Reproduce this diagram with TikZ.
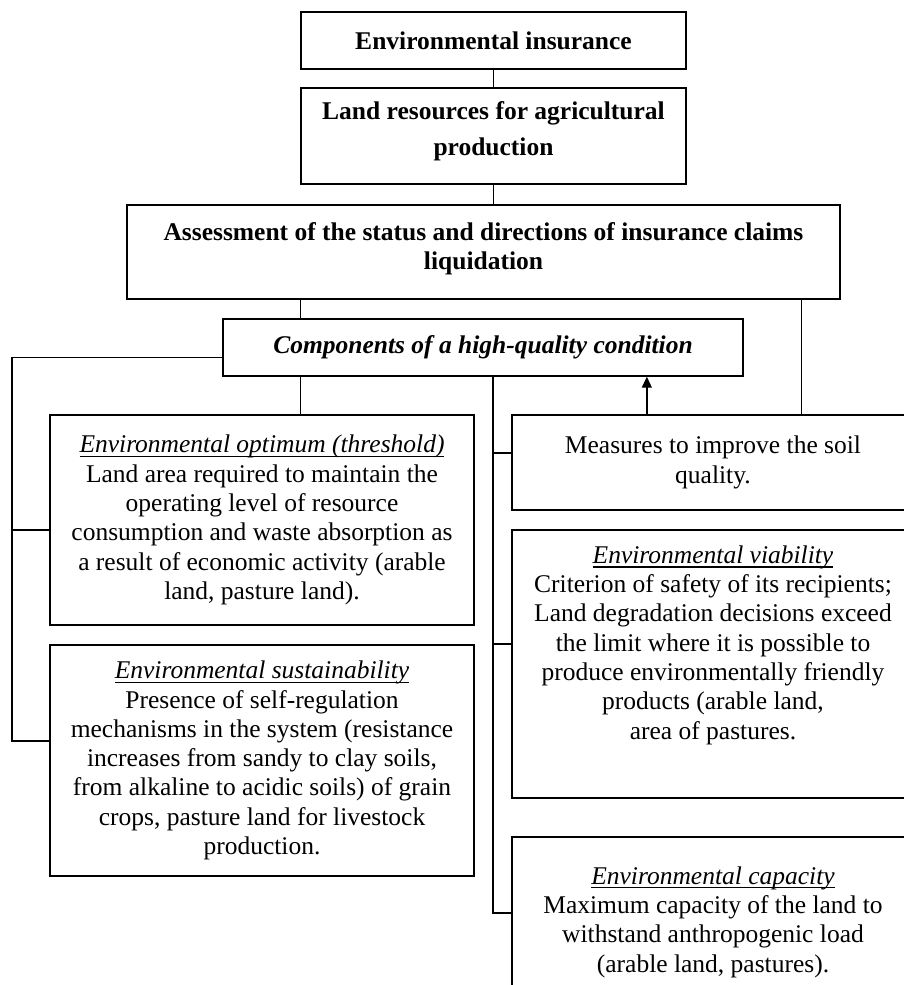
\documentclass[tikz,border=0pt]{standalone}
\usepackage{fontspec}
\setmainfont{Liberation Serif}
\usetikzlibrary{arrows.meta,calc}
\newcommand{\boxfont}{\fontsize{25.5pt}{29.3pt}\selectfont}
\newcommand{\undr}[1]{\leavevmode\setbox0\hbox{#1}\rlap{\vrule height -3pt depth 4.3pt width \wd0}\box0}
\tikzset{
  blk/.style={draw,line width=1.4pt,align=center,font=\boxfont,inner sep=0pt},
  link/.style={line width=1.4pt},
}
\begin{document}
\begin{tikzpicture}[x=1pt,y=-1pt]
	\useasboundingbox (0,0) rectangle (904,985);
	\clip (0,0) rectangle (904,985);
	% upper chain
	\node[blk,minimum width=385,minimum height=57,font=\boxfont\bfseries] (ins) at (493.5,40.5) {Environmental insurance};
	\node[blk,minimum width=385,minimum height=96,font=\fontsize{25.5pt}{36pt}\selectfont\bfseries] (land) at (493.5,136) {Land resources for agricultural\\production\\[-22pt]\mbox{}};
	\node[blk,minimum width=713,minimum height=94,font=\boxfont\bfseries] (assess) at (483.5,252) {Assessment of the status and directions of insurance claims\\liquidation\\[-17pt]\mbox{}};
	\node[blk,minimum width=520,minimum height=57,font=\boxfont\bfseries\itshape] (comp) at (483,347.5) {Components of a high-quality condition};
	% left column
	\node[blk,minimum width=424,minimum height=210] (opt) at (262,520) {\undr{\textit{Environmental optimum (threshold)}}\\Land area required to maintain the\\operating level of resource\\consumption and waste absorption as\\a result of economic activity (arable\\land, pasture land).};
	\node[blk,minimum width=424,minimum height=231] (sust) at (262,760.5) {\undr{\textit{Environmental sustainability}}\\Presence of self-regulation\\mechanisms in the system (resistance\\increases from sandy to clay soils,\\from alkaline to acidic soils) of grain\\crops, pasture land for livestock\\production.};
	% right column
	\node[blk,minimum width=402,minimum height=95] (meas) at (713,462.5) {Measures to improve the soil\\quality.};
	\node[blk,minimum width=402,minimum height=268] (viab) at (713,664) {\undr{\textit{Environmental viability}}\\Criterion of safety of its recipients;\\Land degradation decisions exceed\\the limit where it is possible to\\produce environmentally friendly\\products (arable land,\\area of pastures.\\[14pt]\mbox{}};
	\node[blk,minimum width=402,minimum height=170] (cap) at (713,922) {\undr{\textit{Environmental capacity}}\\Maximum capacity of the land to\\withstand anthropogenic load\\(arable land, pastures).};
	% connectors
	\draw[link] (ins) -- (land);
	\draw[link] (land.south) -- (land.south |- assess.north);
	\coordinate (c1) at ($(comp.north west)!0.15!(comp.north east)$);
	\coordinate (m1) at ($(meas.north west)!0.719!(meas.north east)$);
	\coordinate (a1) at ($(meas.north west)!0.336!(meas.north east)$);
	\draw[link] (c1) -- (c1 |- assess.south);
	\draw[link] (m1) -- (m1 |- assess.south);
	\draw[link,-{Triangle[length=11pt,width=10pt]}] (a1) -- (a1 |- comp.south);
	\coordinate (lbus) at (12,0);
	\coordinate (cl) at ($(comp.north west)!0.67!(comp.south west)$);
	\coordinate (ol) at ($(opt.north west)!0.548!(opt.south west)$);
	\coordinate (sl) at ($(sust.north west)!0.416!(sust.south west)$);
	\draw[link] (cl) -| (lbus |- sl) -- (sl);
	\draw[link] (lbus |- ol) -- (ol);
	\draw[link] (comp.south -| c1) -- (opt.north -| c1);
	\coordinate (rb) at ($(comp.south west)!0.519!(comp.south east)$);
	\coordinate (ml) at ($(meas.north west)!0.4!(meas.south west)$);
	\coordinate (vl) at ($(viab.north west)!0.425!(viab.south west)$);
	\coordinate (kl) at ($(cap.north west)!0.447!(cap.south west)$);
	\draw[link] (rb) |- (kl);
	\draw[link] (rb |- ml) -- (ml);
	\draw[link] (rb |- vl) -- (vl);
\end{tikzpicture}
\end{document}
